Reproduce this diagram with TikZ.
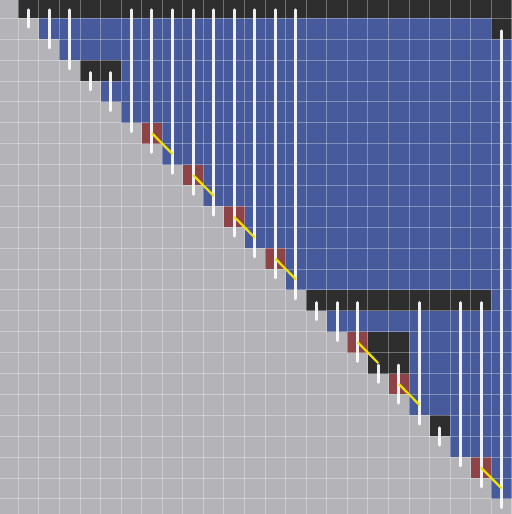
\documentclass[tikz,border=0pt]{standalone}
\usepackage{tikz}
\definecolor{bggray}{RGB}{180,179,184}
\definecolor{cellblue}{RGB}{71,90,156}
\definecolor{celldark}{RGB}{46,46,46}
\definecolor{cellred}{RGB}{142,68,71}
\definecolor{pathyellow}{RGB}{240,226,0}

\begin{document}
\begin{tikzpicture}[x=20.57pt, y=-20.9pt,
    gridline/.style={white, opacity=0.32, line width=1pt},
    fillin/.style={white, opacity=0.92, line width=3pt, line cap=round},
    pivot/.style={pathyellow, line width=2.2pt}
]
\useasboundingbox (-0.89,0.124) rectangle (24,24.72);
\clip (-0.89,0.124) rectangle (24,24.72);
\fill[bggray] (-0.89,0.124) rectangle (24,24.72);
% upper triangle
\foreach \i in {0,...,23}
    \fill[cellblue] (\i,\i) rectangle (24,\i+1);
% dark rows
\fill[celldark] (0,0) rectangle (24,1);
\fill[celldark] (23,1) rectangle (24,2);
\fill[celldark] (3,3) rectangle (5,4);
\fill[celldark] (14,14) rectangle (23,15);
\fill[celldark] (17,16) rectangle (19,18);
\fill[celldark] (20,20) rectangle (21,21);
% red pivots
\foreach \i in {6,8,10,12,16,18,22}
    \fill[cellred] (\i,\i) rectangle (\i+1,\i+1);
% grid
\foreach \k in {0,...,24}
    \draw[gridline] (\k,0) -- (\k,25);
\foreach \k in {1,...,24}
    \draw[gridline] (-1,\k) -- (25,\k);
% column lines
\foreach \j/\s in {0/0,1/0,2/0,3/3,4/3,5/0,6/0,7/0,8/0,9/0,10/0,11/0,
    12/0,13/0,14/14,15/14,16/14,17/17,18/17,19/14,20/20,21/14,22/14,23/1}
    \draw[fillin] (\j+0.5,\s+0.6) -- (\j+0.5,\j+1.42);
% pivot steps
\foreach \i in {6,8,10,12,16,18,22}
    \draw[pivot] (\i+0.5,\i+0.5) -- (\i+1.5,\i+1.5);
\end{tikzpicture}
\end{document}
